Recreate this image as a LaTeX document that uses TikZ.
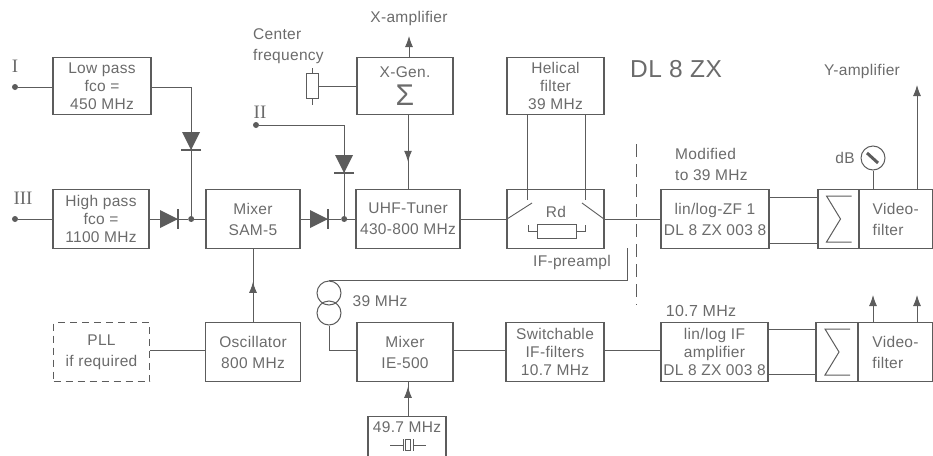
\documentclass[tikz,border=0pt]{standalone}
\usepackage{fontspec}
\setmainfont[LetterSpace=2]{Liberation Sans}
\newfontfamily\romfont{Liberation Serif}
\usepackage{tikz}
\usetikzlibrary{positioning, arrows.meta, decorations.markings}
\definecolor{inkline}{gray}{0.36}
\definecolor{inktext}{gray}{0.42}

\begin{document}
\begin{tikzpicture}[
    x=1pt, y=-1pt,
    box/.style={draw=inkline, line width=1.4pt, align=center, minimum height=59pt,
      inner sep=0pt, outer sep=0pt, text=inktext, font=\fontsize{15.5}{18}\selectfont},
    txt/.style={align=left, inner sep=0pt, text=inktext, font=\fontsize{15.5}{21}\selectfont},
    rom/.style={inner sep=0pt, text=inktext, font=\fontsize{19}{19}\romfont},
    wire/.style={draw=inkline, line width=0.9pt},
    sym/.style={draw=inkline, line width=1pt, inner sep=0pt},
    arr/.style={wire, -{Latex[length=11pt, width=8pt]}},
    midarr/.style={wire, postaction={decorate}, decoration={markings,
      mark=at position #1 with {\arrow[inkline]{Latex[length=11pt, width=8pt]}}}},
    dot/.style={circle, fill=inkline, inner sep=0pt, minimum size=6pt},
    diode/.pic={
      \fill[inkline] (-9,-9) -- (-9,9) -- (9,0) -- cycle;
      \draw[inkline, line width=1.2pt] (9,-10) -- (9,10);
    },
    bigsum/.pic={
      \draw[inkline, line width=1pt] (13,-23) -- (-12,-23) -- (2,0) -- (-12,23) -- (13,23);
    }
  ]
    \useasboundingbox (0,0) rectangle (933,455);
    % middle row
    \node[box, minimum width=96pt] (hp) at (101,219) {High pass\\fco =\\1100 MHz};
    \node[box, minimum width=94pt, right=57pt of hp] (mix) {Mixer\\[3pt]SAM-5};
    \node[box, minimum width=104pt, right=56pt of mix] (uhf) {UHF-Tuner\\[3pt]430-800 MHz};
    \node[box, minimum width=97pt, right=47pt of uhf] (rd) {};
    \node[box, minimum width=108pt, right=57pt of rd] (zf) {lin/log-ZF 1\\[3pt]DL 8 ZX 003 8};
    \node[box, minimum width=41pt, right=49pt of zf] (sumup) {};
    \node[box, minimum width=73.5pt, align=left, right=0pt of sumup] (vidup) {Video-\\[3pt]filter};
    % top row
    \node[box, minimum width=98pt, minimum height=57pt, above=75pt of hp, xshift=1pt] (lp) {Low pass\\fco =\\450 MHz};
    \node[box, minimum width=96pt, minimum height=57pt, above=75pt of uhf, xshift=-3pt] (xgen) {X-Gen.\\[7pt]{\fontsize{30}{24}\selectfont Σ}};
    \node[box, minimum width=97pt, minimum height=57pt, above=75pt of rd] (hel) {Helical\\filter\\39 MHz};
    % bottom row
    \node[box, minimum width=95pt, below=74pt of mix] (osc) {Oscillator\\[3pt]800 MHz};
    \node[box, minimum width=96pt, dashed, dash pattern=on 7pt off 5pt, left=56pt of osc] (pll) {PLL\\[3pt]if required};
    \node[box, minimum width=96pt, below=74pt of uhf, xshift=-3pt] (iem) {Mixer\\[3pt]IE-500};
    \node[box, minimum width=98pt, right=53pt of iem] (swf) {Switchable\\IF-filters\\10.7 MHz};
    \node[box, minimum width=107pt, right=57pt of swf] (ifa) {lin/log IF\\amplifier\\DL 8 ZX 003 8};
    \node[box, minimum width=42pt, right=48pt of ifa] (sumlo) {};
    \node[box, minimum width=75pt, align=left, right=0pt of sumlo] (vidlo) {Video-\\[3pt]filter};
    \node[box, minimum width=78pt, minimum height=44pt, below=35pt of iem, xshift=2pt] (xtal) {};
    \node[txt, below=5pt of xtal.north] (xtaltxt) {49.7 MHz};
    \pic at (sumup) {bigsum};
    \pic at (sumlo) {bigsum};

    % terminals and free labels
    \node[dot] (in1) at (15,87) {};
    \node[dot] (in3) at (15,219) {};
    \node[dot] (in2) at (256,125) {};
    \node[rom] (lab1) at (15,66) {I};
    \node[rom] (lab2) at (260,112) {II};
    \node[rom] (lab3) at (23,198) {III};
    \node[txt, anchor=north west] (cfq) at (253,28) {Center\\frequency};
    \node[txt] (xamp) at (409,18) {X-amplifier};
    \node[txt] (yamp) at (862,71) {Y-amplifier};
    \node[txt, font=\fontsize{24.5}{25}\selectfont] (title) at (676,69) {DL 8 ZX};
    \node[txt, anchor=north west] (modif) at (675,148) {Modified\\to 39 MHz};
    \node[txt] (ifpre) at (572,262) {IF-preampl};
    \node[txt] (f39) at (380,301) {39 MHz};
    \node[txt, font=\fontsize{16}{16}\selectfont] (f107) at (701,311) {10.7 MHz};
    \node[txt] (dblab) at (845,158) {dB};

    % junctions on the signal line
    \node[dot, right=39pt of hp] (j1) {};
    \node[dot, right=41pt of mix] (j2) {};
    \draw[wire] (in1) -- (in1 -| lp.west);
    \draw[wire] (in3) -- (hp);
    \draw[wire] (hp) -- (j1) -- (mix);
    \draw[wire] (mix) -- (j2) -- (uhf);
    \draw[wire] (lp.east |- in1) -| (j1);
    \draw[wire] (in2) -| (j2);
    \pic at (169,219) {diode};
    \pic at (319,219) {diode};
    \pic[rotate=-90] at (191,141) {diode};
    \pic[rotate=-90] at (344,164) {diode};

    % center frequency pot
    \node[sym, minimum width=12pt, minimum height=25pt] (pot) at (312,86) {};
    \coordinate (pott) at (312,68);
    \coordinate (potb) at (312,105);
    \draw[wire] (pott) -- (pot) -- (potb);
    \draw[wire] (pot.east) -- (pot.east -| xgen.west);
    \coordinate (xout) at (409,36);
    \draw[arr] (xout |- xgen.north) -- (xout);
    \draw[midarr=0.63] (uhf.north |- xgen.south) -- (uhf.north);

    % IF-preamp inside
    \coordinate (swl) at (532,203);
    \coordinate (swr) at (582,203);
    \coordinate (hl) at (527,200);
    \coordinate (hr) at (585,200);
    \node[txt] (rdlab) at (556,212) {Rd};
    \node[sym, minimum width=39pt, minimum height=14pt] (rdr) at (556.5,231) {};
    \draw[wire] (uhf) -- (rd);
    \draw[wire] (rd.west) -- (swl);
    \draw[wire] (rd.east) -- (swr);
    \draw[wire] (hel.south -| hl) -- (hl);
    \draw[wire] (hel.south -| hr) -- (hr);
    \draw[wire] (rdr.west) -| (528,225);
    \draw[wire] (rdr.east) -| (585,225);
    \draw[wire] (rd) -- (zf);
    \coordinate (cutt) at (636,144);
    \coordinate (cutb) at (636,305);
    \draw[wire, dash pattern=on 13pt off 7pt] (cutt) -- (cutb);

    % right blocks
    \draw[wire] ([yshift=22pt]zf.east) -- ([yshift=22pt]sumup.west);
    \draw[wire] ([yshift=-24pt]zf.east) -- ([yshift=-24pt]sumup.west);
    \node[sym, circle, minimum size=24pt] (meter) at (873,158) {};
    \draw[inkline, line width=3pt] (867,153) -- (878,163);
    \draw[wire] (meter) -- (meter |- vidup.north);
    \coordinate (yout) at (917,85);
    \draw[arr] (yout |- vidup.north) -- (yout);
    \coordinate (yo1) at (873,295);
    \coordinate (yo2) at (917,295);
    \draw[arr] (yo1 |- vidlo.north) -- (yo1);
    \draw[arr] (yo2 |- vidlo.north) -- (yo2);

    % lower chain
    \draw[midarr=0.55] (osc) -- (mix);
    \draw[wire] ([yshift=2pt]pll.east) -- ([yshift=2pt]osc.west);
    \draw[wire] ([yshift=2pt]iem.east) -- ([yshift=2pt]swf.west);
    \draw[wire] ([yshift=2pt]swf.east) -- ([yshift=2pt]ifa.west);
    \draw[wire] ([yshift=23pt]ifa.east) -- ([yshift=23pt]sumlo.west);
    \draw[wire] ([yshift=-22pt]ifa.east) -- ([yshift=-22pt]sumlo.west);
    \coordinate (xin) at (408,0);
    \draw[midarr=0.85] (xtal.north -| xin) -- (iem.south -| xin);
    \node[sym, circle, minimum size=24pt] (tru) at (329,293) {};
    \node[sym, circle, minimum size=24pt] (trl) at (329,313) {};
    \coordinate (ifc) at (627,248);
    \draw[wire] (ifc) |- (tru.north);
    \draw[wire] (trl.south) |- ([yshift=2pt]iem.west);

    % crystal
    \coordinate (qzl) at (390,445);
    \coordinate (qzr) at (426,445);
    \node[sym, minimum width=5pt, minimum height=11pt] (qz) at (408,445) {};
    \draw[wire] (qzl) -- (403,445);
    \draw[wire] (403,439) -- (403,451);
    \draw[wire] (413,439) -- (413,451);
    \draw[wire] (413,445) -- (qzr);
  \end{tikzpicture}
\end{document}
